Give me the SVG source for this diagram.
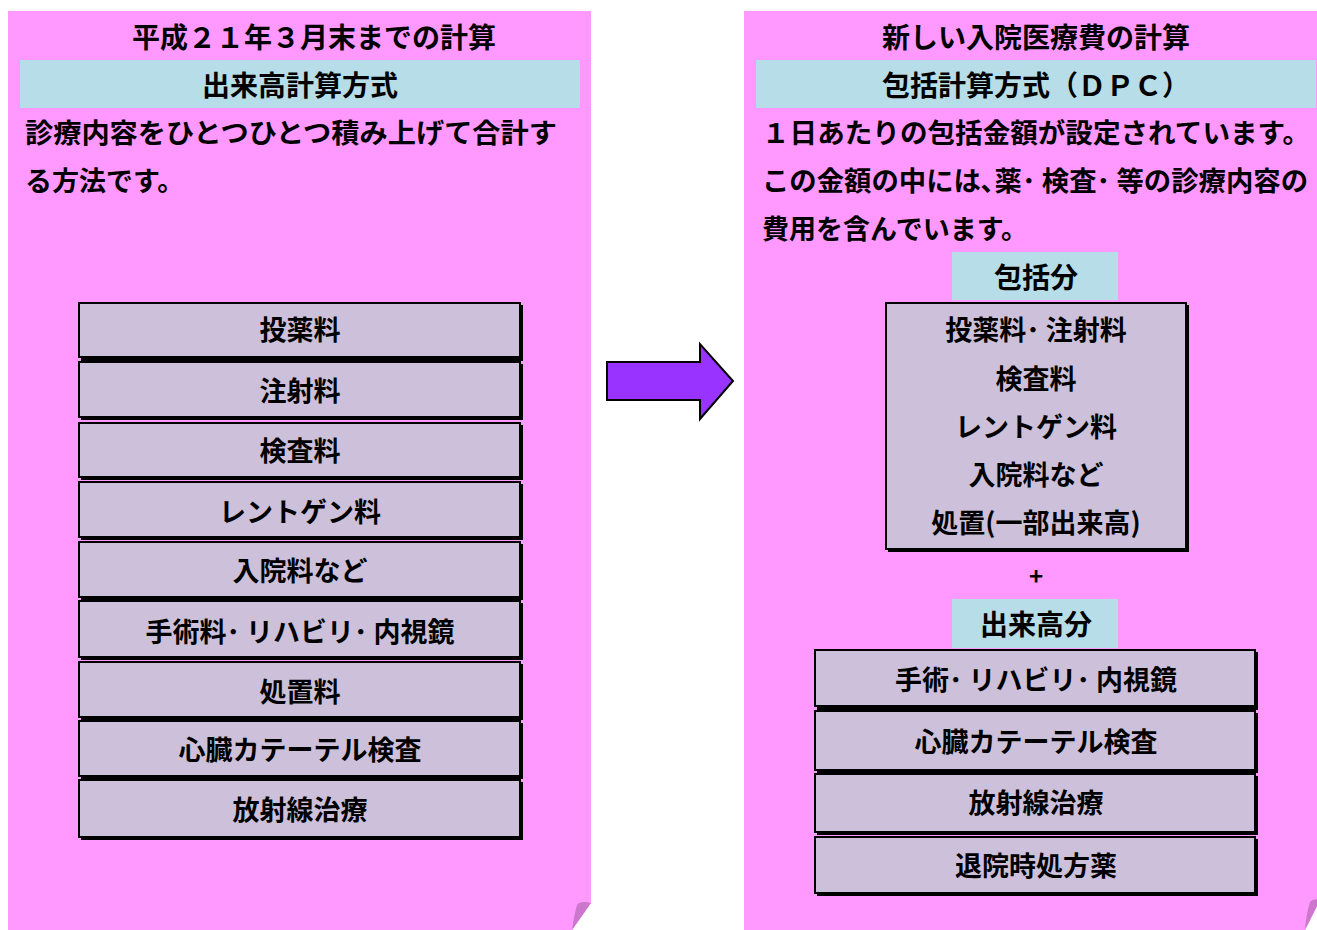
<svg xmlns="http://www.w3.org/2000/svg" width="1317" height="930" viewBox="0 0 1317 930">
<style>
.panel{fill:#FF99FF}
.fold{fill:#CC77CC}
.band{fill:#B7DDE8}
.box{fill:#CCC0DA;stroke:#000;stroke-width:2}
.sh{fill:#000}
text{font-family:"Noto Sans CJK JP","Noto Sans CJK SC",sans-serif;font-weight:bold;fill:#000}
.c{text-anchor:middle}
.h{font-size:28px}
.t{font-size:27px}
.b{font-size:27px}
</style>
<rect width="1317" height="930" fill="#fff"/>
<g id="left-panel">
<path class="panel" d="M8 11 H591 V903 L572 930 H8 Z"/>
<path class="fold" d="M577 905 Q580 900 591 903 L572 930 Q574 915 577 905 Z"/>
<text class="h c" x="314" y="48" textLength="364" lengthAdjust="spacingAndGlyphs">平成２１年３月末までの計算</text>
<rect class="band" x="20" y="60" width="560" height="48"/>
<text class="h c" x="300" y="96">出来高計算方式</text>
<text class="t" x="25" y="143" textLength="532" lengthAdjust="spacingAndGlyphs">診療内容をひとつひとつ積み上げて合計す</text>
<text class="t" x="25" y="191">る方法です。</text>
</g>
<g id="left-boxes">
<g id="lb1"><rect class="sh" x="81" y="305" width="442" height="56"/><rect class="box" x="79" y="303" width="441" height="54"/><text class="b c" x="300" y="340">投薬料</text></g>
<g id="lb2"><rect class="sh" x="81" y="364" width="442" height="56"/><rect class="box" x="79" y="362" width="441" height="55"/><text class="b c" x="300" y="401">注射料</text></g>
<g id="lb3"><rect class="sh" x="81" y="425" width="442" height="55"/><rect class="box" x="79" y="423" width="441" height="54"/><text class="b c" x="300" y="461">検査料</text></g>
<g id="lb4"><rect class="sh" x="81" y="484" width="442" height="56"/><rect class="box" x="79" y="482" width="441" height="55"/><text class="b c" x="300" y="522">レントゲン料</text></g>
<g id="lb5"><rect class="sh" x="81" y="544" width="442" height="56"/><rect class="box" x="79" y="542" width="441" height="55"/><text class="b c" x="300" y="581">入院料など</text></g>
<g id="lb6"><rect class="sh" x="81" y="603" width="442" height="57"/><rect class="box" x="79" y="601" width="441" height="56"/><text class="b c" x="300" y="642" textLength="309" lengthAdjust="spacingAndGlyphs">手術料･ リハビリ･ 内視鏡</text></g>
<g id="lb7"><rect class="sh" x="81" y="664" width="442" height="56"/><rect class="box" x="79" y="662" width="441" height="55"/><text class="b c" x="300" y="702">処置料</text></g>
<g id="lb8"><rect class="sh" x="81" y="723" width="442" height="56"/><rect class="box" x="79" y="721" width="441" height="55"/><text class="b c" x="300" y="760">心臓カテーテル検査</text></g>
<g id="lb9"><rect class="sh" x="81" y="782" width="442" height="58"/><rect class="box" x="79" y="780" width="441" height="57"/><text class="b c" x="300" y="820">放射線治療</text></g>
</g>
<g id="connectors">
<path d="M607 362 H700 V344 L733 381 L700 419 V400 H607 Z" fill="#9933FF" stroke="#000" stroke-width="2"/>
</g>
<g id="right-panel">
<path class="panel" d="M744 11 H1320 V900 L1305 930 H744 Z"/>
<path class="fold" d="M1310 902 Q1313 898 1320 900 L1305 930 Q1306 915 1310 902 Z"/>
<text class="h c" x="1036" y="48">新しい入院医療費の計算</text>
<rect class="band" x="756" y="60" width="560" height="48"/>
<text class="h c" x="1036" y="96">包括計算方式（ＤＰＣ）</text>
<text class="t" x="762" y="143" textLength="548" lengthAdjust="spacingAndGlyphs">１日あたりの包括金額が設定されています。</text>
<text class="t" x="762" y="191" textLength="546" lengthAdjust="spacingAndGlyphs">この金額の中には､薬･ 検査･ 等の診療内容の</text>
<text class="t" x="762" y="239">費用を含んでいます。</text>
</g>
<g id="hokatsu">
<rect class="band" x="952" y="252" width="166" height="48"/>
<text class="h c" x="1036" y="288">包括分</text>
<rect class="sh" x="888" y="305" width="301" height="247"/>
<rect class="box" x="886" y="303" width="300" height="246"/>
<text class="b c" x="1036" y="340">投薬料･ 注射料</text>
<text class="b c" x="1036" y="389">検査料</text>
<text class="b c" x="1036" y="437">レントゲン料</text>
<text class="b c" x="1036" y="485">入院料など</text>
<text class="b c" x="1036" y="533">処置(一部出来高)</text>
</g>
<g id="plus"><text class="c" x="1036" y="585" font-size="24px">+</text></g>
<g id="dekidaka">
<rect class="band" x="952" y="599" width="166" height="49"/>
<text class="h c" x="1036" y="635">出来高分</text>
</g>
<g id="right-boxes">
<g id="rb1"><rect class="sh" x="817" y="652" width="441" height="58"/><rect class="box" x="815" y="650" width="440" height="56"/><text class="b c" x="1036" y="690" textLength="282" lengthAdjust="spacingAndGlyphs">手術･ リハビリ･ 内視鏡</text></g>
<g id="rb2"><rect class="sh" x="817" y="713" width="441" height="60"/><rect class="box" x="815" y="711" width="440" height="59"/><text class="b c" x="1036" y="752">心臓カテーテル検査</text></g>
<g id="rb3"><rect class="sh" x="817" y="776" width="441" height="59"/><rect class="box" x="815" y="774" width="440" height="58"/><text class="b c" x="1036" y="813">放射線治療</text></g>
<g id="rb4"><rect class="sh" x="817" y="839" width="441" height="57"/><rect class="box" x="815" y="837" width="440" height="56"/><text class="b c" x="1036" y="876">退院時処方薬</text></g>
</g>
</svg>
